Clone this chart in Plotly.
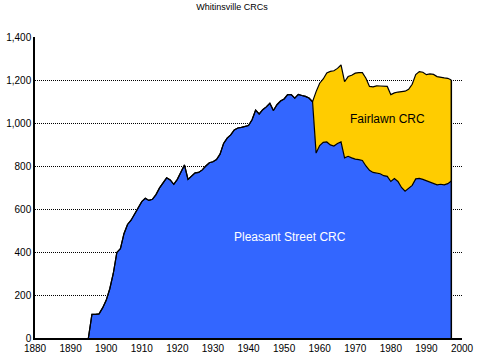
import plotly.graph_objects as go

# ---- data ----
years = list(range(1895, 1998))
pleasant_street = [
    0, 110, 110, 112, 140, 175, 228, 300, 398, 415,      # 1895-1904
    485, 528, 548, 578, 603, 634, 650, 640, 645, 667,    # 1905-1914
    698, 722, 745, 735, 715, 738, 775, 805, 738, 752,    # 1915-1924
    768, 770, 782, 800, 815, 820, 830, 855, 905, 930,    # 1925-1934
    945, 968, 977, 980, 984, 988, 1015, 1060, 1042, 1062, # 1935-1944
    1075, 1092, 1058, 1085, 1102, 1112, 1132, 1132, 1116, 1133,  # 1945-1954
    1128, 1124, 1116, 1099, 860, 895, 910, 912, 898, 893,        # 1955-1964
    905, 912, 838, 845, 838, 832, 830, 826, 800, 780,            # 1965-1974
    770, 766, 764, 755, 752, 728, 742, 728, 700, 683,            # 1975-1984
    695, 710, 740, 742, 738, 732, 725, 718, 712, 715,            # 1985-1994
    712, 718, 730,                                               # 1995-1997
]
fairlawn_years = list(range(1958, 1998))
fairlawn = [
    0, 286, 290, 295, 321, 342, 350, 349, 358, 354,      # 1958-1967
    371, 384, 400, 404, 408, 408, 390, 398, 407, 408,    # 1968-1977
    415, 418, 404, 398, 416, 446, 465, 462, 470, 485,    # 1978-1987
    497, 498, 493, 503, 508, 504, 497, 498, 490, 470,    # 1988-1997
]
x_ticks = list(range(1880, 2001, 10))
y_ticks = list(range(0, 1401, 200))
title_text = "Whitinsville CRCs"
label_pleasant = "Pleasant Street CRC"
label_fairlawn = "Fairlawn CRC"

BLUE = "#3366FF"
YELLOW = "#FFCC00"
FONT = "Liberation Sans"

fig = go.Figure()
fig.add_trace(go.Scatter(
    x=years, y=pleasant_street, stackgroup="crc", mode="lines",
    line=dict(color="black", width=1.2), fillcolor=BLUE, name=label_pleasant,
    hoverinfo="x+y",
))
fig.add_trace(go.Scatter(
    x=fairlawn_years, y=fairlawn, stackgroup="crc", mode="lines",
    line=dict(color="black", width=1.2), fillcolor=YELLOW, name=label_fairlawn,
    hoverinfo="x+y",
))
# closing edge at the last year
last_total = pleasant_street[-1] + fairlawn[-1]
fig.add_trace(go.Scatter(
    x=[years[-1], years[-1]], y=[0, last_total], mode="lines",
    line=dict(color="black", width=1.5), showlegend=False, hoverinfo="skip",
))

fig.add_annotation(x=1979, y=1020, text=label_fairlawn, showarrow=False,
                   font=dict(family=FONT, size=12, color="black"))
fig.add_annotation(x=1951.7, y=470, text=label_pleasant, showarrow=False,
                   font=dict(family=FONT, size=12, color="white"))

fig.update_layout(
    width=480, height=355,
    margin=dict(l=35, r=18, t=37, b=17),
    paper_bgcolor="white", plot_bgcolor="white",
    showlegend=False,
    title=dict(text=title_text, x=232 / 480, xanchor="center", xref="container",
               y=1 - 7 / 355, yanchor="middle", yref="container",
               font=dict(family=FONT, size=9, color="black")),
    font=dict(family=FONT, size=10, color="black"),
)
fig.update_xaxes(
    range=[1880, 2000], tickvals=x_ticks, showgrid=False, zeroline=False,
    showline=True, linecolor="black", linewidth=1.5, ticks="",
    tickfont=dict(family=FONT, size=10, color="black"), automargin=False,
)
fig.update_yaxes(
    range=[0, 1400], tickvals=y_ticks, tickformat=",d",
    showgrid=True, gridcolor="black", griddash="1px,1px", gridwidth=1,
    zeroline=False, showline=True, linecolor="black", linewidth=1.5, ticks="",
    tickfont=dict(family=FONT, size=10, color="black"), automargin=False,
)

fig.write_html("out.html", config={"displayModeBar": False},
               post_script="document.body.style.margin='0';document.body.style.padding='0';")
